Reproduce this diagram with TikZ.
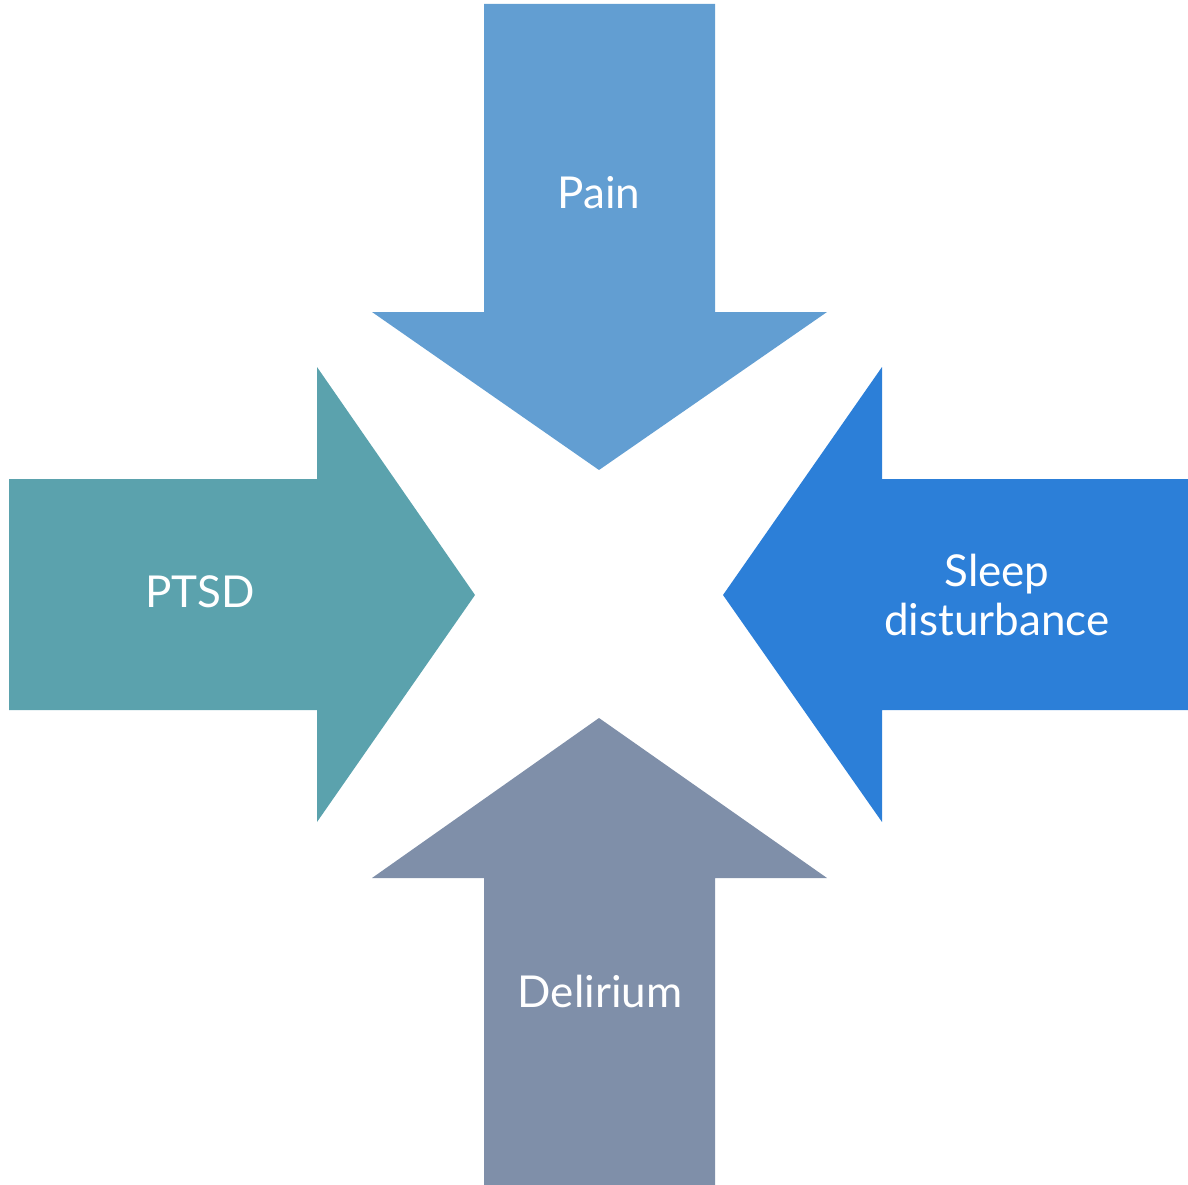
\documentclass[tikz,border=0pt]{standalone}
\usepackage{fontspec}
\setmainfont{Lato}
\usepackage{tikz}
\usetikzlibrary{positioning}

\definecolor{painblue}{HTML}{629ED2}
\definecolor{ptsdteal}{HTML}{5BA2AD}
\definecolor{sleepblue}{HTML}{2C7FD8}
\definecolor{delgray}{HTML}{7F8FA9}

\begin{document}
\begin{tikzpicture}[x=0.01cm,y=-0.01cm,
    lbl/.style={text=white,align=center,font=\fontsize{12.5}{14}\selectfont}]
    \useasboundingbox (0,0) rectangle (1188,1185);
    % downward arrow
    \fill[painblue] (484,4) -- (715,4) -- (715,312) -- (827,312) --
        (599,470) -- (372,312) -- (484,312) -- cycle;
    % upward arrow
    \fill[delgray] (484,1185) -- (715,1185) -- (715,878) -- (827,878) --
        (599,718) -- (372,878) -- (484,878) -- cycle;
    % arrow pointing right
    \fill[ptsdteal] (9,479) -- (317,479) -- (317,367) -- (475,595) --
        (317,822) -- (317,710) -- (9,710) -- cycle;
    % arrow pointing left
    \fill[sleepblue] (1188,479) -- (882,479) -- (882,367) -- (723,595) --
        (882,822) -- (882,710) -- (1188,710) -- cycle;
    \node[lbl] (pain) at (599,193) {Pain};
    \node[lbl] (ptsd) at (200,592) {PTSD};
    \node[lbl] (sleep) at (997,595) {Sleep\\disturbance};
    \node[lbl] (delirium) at (600,991) {Delirium};
\end{tikzpicture}
\end{document}
